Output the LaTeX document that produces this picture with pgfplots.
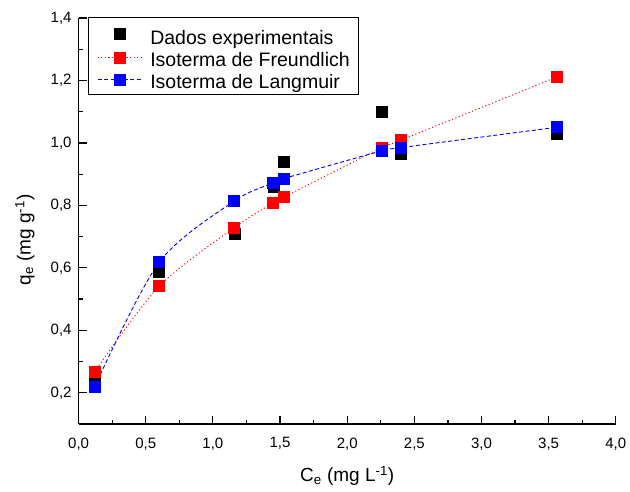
\documentclass[border=0pt]{standalone}
\usepackage{fontspec}
\setmainfont{Liberation Sans}
\usepackage{pgfplots}
\pgfplotsset{compat=1.18}

% Legend images: a lone mark, or a mark on a short line
\pgfplotsset{
  legmark/.style={legend image code/.code={\draw[##1] plot coordinates {(22pt,0pt)};}},
  legline/.style={legend image code/.code={\draw[mark repeat=2,mark phase=2,##1] plot coordinates {(0pt,0pt) (22pt,0pt) (44pt,0pt)};}},
}
% uniform row height for the legend entries (a taller one for the first row)
\newcommand\legstrut{\rule[-5pt]{0pt}{24.5pt}}
\newcommand\legstrutfirst{\rule[-5pt]{0pt}{28pt}}

% Experimental isotherm data and the two fitted models
\pgfplotstableread{
x     q
0.12  0.245
0.60  0.589
1.16  0.708
1.45  0.860
1.53  0.939
2.26  1.099
2.40  0.966
3.56  1.028
}\dadosexp
\pgfplotstableread{
x     q
0.12  0.268
0.60  0.541
1.16  0.729
1.45  0.808
1.53  0.827
2.26  0.985
2.40  1.009
3.56  1.211
}\freundlich
\pgfplotstableread{
x     q
0.12  0.220
0.60  0.618
1.16  0.814
1.45  0.872
1.53  0.886
2.26  0.975
2.40  0.985
3.56  1.050
}\langmuir

\begin{document}
\begin{tikzpicture}[x=1pt,y=1pt]
\path[use as bounding box] (0,0) rectangle (630,492);
\begin{axis}[
  at={(78.6pt,68pt)}, anchor=south west,
  scale only axis, width=537.2pt, height=406pt,
  xmin=0, xmax=4, ymin=0.1, ymax=1.4,
  axis x line*=bottom, axis y line*=left,
  axis line style={line width=1.4pt},
  xtick={0,0.5,...,4}, ytick={0.2,0.4,...,1.4},
  minor x tick num=1, minor y tick num=1,
  tick align=inside,
  major tick length=8pt, minor tick length=4pt,
  every tick/.style={black, line width=1.2pt},
  tick label style={font=\fontsize{15}{18}\selectfont},
  /pgf/number format/assume math mode=true,
  /pgf/number format/.cd, use comma, fixed, fixed zerofill, precision=1,
  /pgfplots/.cd,
  xticklabel style={yshift=-10pt},
  yticklabel style={xshift=-3.5pt},
  label style={font=\fontsize{19}{22}\selectfont},
  xlabel={C\textsubscript{e} (mg L\textsuperscript{-1})},
  ylabel={q\textsubscript{e} (mg g\textsuperscript{-1})},
  xlabel style={at={(axis description cs:0.5,0)}, anchor=center, yshift=-52pt},
  ylabel style={at={(axis description cs:-0.100,0.453)}, anchor=center},
  legend style={at={(axis description cs:0,1)}, anchor=north west,
    xshift=9.7pt, yshift=0.7pt, draw=black, line width=0.8pt,
    font=\fontsize{19.5}{22}\selectfont,
    row sep=0.9pt, column sep=7.7pt,
    inner xsep=8.4pt, inner ysep=4pt,
    nodes={inner xsep=0.6pt, inner ysep=0pt}},
  legend cell align=left,
  clip=false,
]
\addplot[only marks, mark=square*, mark size=5.5pt, black, legmark]
  table {\dadosexp};
\addlegendentry{\legstrutfirst Dados experimentais}
\addplot[smooth, red, line width=0.9pt, dash pattern=on 1.2pt off 2.4pt,
  mark=square*, mark size=5.5pt, mark options={solid}, legline]
  table {\freundlich};
\addlegendentry{\legstrut Isoterma de Freundlich}
\addplot[smooth, blue, line width=0.9pt, dash pattern=on 4pt off 2.5pt,
  mark=square*, mark size=5.5pt, mark options={solid}, legline]
  table {\langmuir};
\addlegendentry{\legstrut Isoterma de Langmuir}
\end{axis}
\end{tikzpicture}
\end{document}
